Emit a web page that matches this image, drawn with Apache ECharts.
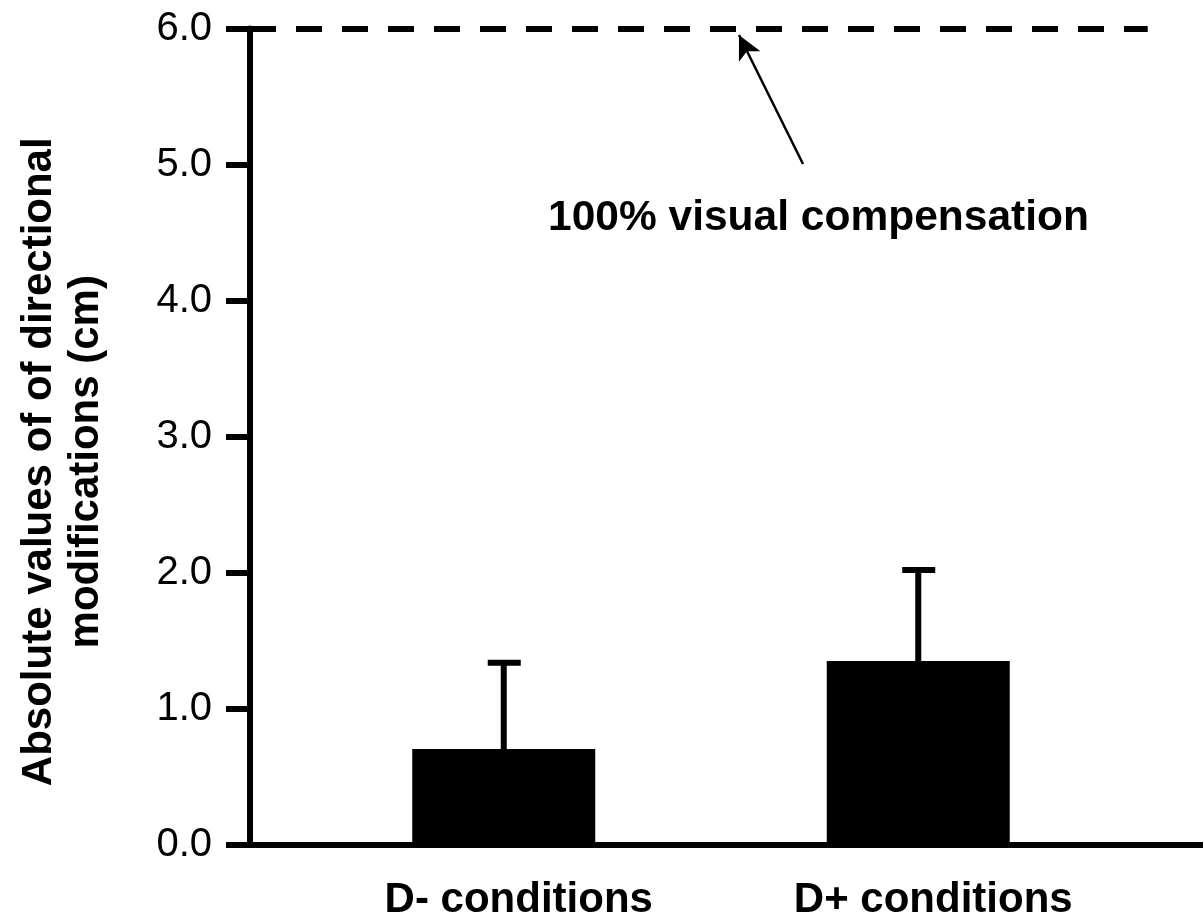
<!DOCTYPE html>
<html><head><meta charset="utf-8">
<script src="https://cdn.jsdelivr.net/npm/echarts@6/dist/echarts.min.js"></script>
<style>html,body{margin:0;padding:0;background:#fff}#c{width:1203px;height:917px}</style>
</head><body><div id="c"></div>
<script>
const categories = ['D- conditions', 'D+ conditions'];
const means = [0.705, 1.352];
const upperValues = [1.34, 2.02];
const yTickLabels = ['0.0', '1.0', '2.0', '3.0', '4.0', '5.0', '6.0'];
const referenceValue = 6.0;
const annotationText = '100% visual compensation';
const yAxisTitle = 'Absolute values of of directional\nmodifications (cm)';

const FONT = 'Liberation Sans, Arial, sans-serif';
const chart = echarts.init(document.getElementById('c'), null, {renderer: 'canvas'});

const option = {
  backgroundColor: '#fff',
  animation: false,
  grid: [
    {left: 250, right: 0, top: 28.5, bottom: 72, containLabel: false, outerBoundsMode: 'none'},
    {left: 296.5, right: 77.5, top: 28.5, bottom: 72, containLabel: false, outerBoundsMode: 'none'}
  ],
  xAxis: [
    {gridIndex: 0, type: 'value', min: 0, max: 1,
     axisLine: {show: true, onZero: false, lineStyle: {color: '#000', width: 6}},
     axisTick: {show: false}, axisLabel: {show: false}, splitLine: {show: false}},
    {gridIndex: 1, type: 'category', data: categories,
     axisLine: {show: false}, axisTick: {show: false}, splitLine: {show: false},
     axisLabel: {show: true, color: '#000', fontFamily: FONT, fontWeight: 'bold', fontSize: 42,
                 margin: 34, padding: [0, 0, 0, 30]}}
  ],
  yAxis: [
    {gridIndex: 0, type: 'value', min: 0, max: 6, interval: 1,
     name: yAxisTitle, nameLocation: 'middle', nameRotate: 90, nameGap: 140,
     nameTextStyle: {color: '#000', fontFamily: FONT, fontWeight: 'bold', fontSize: 42, lineHeight: 47,
                     align: 'center', padding: [0, 50, 0, 0]},
     axisLine: {show: true, lineStyle: {color: '#000', width: 6}},
     axisTick: {show: true, length: 24, lineStyle: {color: '#000', width: 6}},
     axisLabel: {color: '#000', fontFamily: FONT, fontSize: 40, margin: 38,
                 formatter: (v) => yTickLabels[Math.round(v)]},
     splitLine: {show: false}},
    {gridIndex: 1, type: 'value', min: 0, max: 6, interval: 1, show: false}
  ],
  series: [
    {
      type: 'line', xAxisIndex: 0, yAxisIndex: 0, data: [], silent: true,
      markLine: {
        silent: true, animation: false, symbol: ['none', 'none'], label: {show: false},
        data: [
          [{coord: [0, referenceValue], lineStyle: {type: [26, 20], width: 6, color: '#000'}},
           {coord: [0.942, referenceValue]}],
          [{coord: [0.5803, 5.004], symbol: 'none', lineStyle: {type: 'solid', width: 2.5, color: '#000'}},
           {coord: [0.5131, 5.952], symbol: 'arrow', symbolSize: [18, 24]}]
        ]
      }
    },
    {
      type: 'bar', xAxisIndex: 1, yAxisIndex: 1, data: means, barWidth: 183,
      itemStyle: {color: '#000'}, silent: true
    },
    {
      type: 'custom', xAxisIndex: 1, yAxisIndex: 1, silent: true, z: 3,
      data: categories.map((c, i) => [i, means[i], upperValues[i]]),
      renderItem: function (params, api) {
        const i = api.value(0);
        const base = api.coord([i, api.value(1)]);
        const top = api.coord([i, api.value(2)]);
        return {
          type: 'group',
          children: [
            {type: 'line', shape: {x1: base[0], y1: base[1], x2: top[0], y2: top[1]},
             style: {stroke: '#000', lineWidth: 6}},
            {type: 'line', shape: {x1: top[0] - 16, y1: top[1], x2: top[0] + 17, y2: top[1]},
             style: {stroke: '#000', lineWidth: 6}}
          ]
        };
      }
    }
  ],
  graphic: [
    {type: 'text', left: 548, top: 197, silent: true,
     style: {text: annotationText, fill: '#000', font: 'bold 42.5px ' + FONT}}
  ]
};
chart.setOption(option);
</script>
</body></html>
